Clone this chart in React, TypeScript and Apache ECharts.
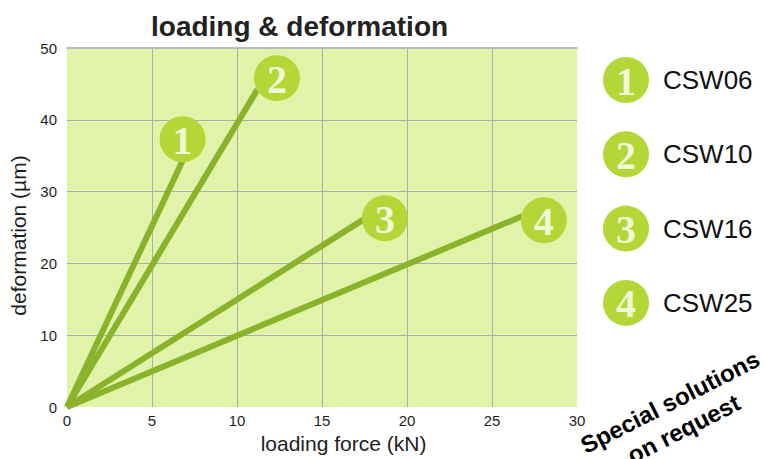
import React, { useEffect, useRef } from "react";
import * as echarts from "echarts";

const categories = ["CSW06", "CSW10", "CSW16", "CSW25"];
const badgeNumbers = ["1", "2", "3", "4"];
// end point of each loading line (kN, µm)
const endForce = [6.8, 11.2, 17.5, 26.8];
const endDeform = [34.3, 44.2, 26.2, 26.6];
// numbered badge position at the end of each line (kN, µm)
const badgeForce = [6.8, 12.35, 18.7, 28.05];
const badgeDeform = [37.3, 45.8, 26.3, 26.0];
const noteLines = ["Special solutions", "on request"];

const LINE = "#8ab22a";
const BADGE = "#b5d637";
const BADGE_TEXT = "#f1f8d4";
const PLOT_BG = "#e1f3a9";
const GRID = "#adadad";
const TEXT = "#1e1e1e";
const SANS = "'Liberation Sans', Arial, sans-serif";

export default function App() {
  const ref = useRef<HTMLDivElement>(null);
  useEffect(() => {
    if (!ref.current) return;
    const chart = echarts.init(ref.current, null, { renderer: "svg" });

    const legendGraphics: any[] = [];
    categories.forEach((name, i) => {
      const cy = 80 + i * 74.3;
      legendGraphics.push({
        type: "circle",
        shape: { cx: 626, cy, r: 23 },
        style: { fill: BADGE },
      });
      legendGraphics.push({
        type: "text",
        x: 626,
        y: cy + 1,
        style: {
          text: badgeNumbers[i],
          fill: BADGE_TEXT,
          font: "bold 40px 'Liberation Serif', serif",
          align: "center",
          verticalAlign: "middle",
        },
      });
      legendGraphics.push({
        type: "text",
        x: 663,
        y: cy,
        style: {
          text: name,
          fill: "#111",
          font: "26px " + SANS,
          align: "left",
          verticalAlign: "middle",
        },
      });
    });

    const angle = (27 * Math.PI) / 180;
    const noteGraphics = noteLines.map((t, i) => ({
      type: "text",
      x: 670 + i * 30 * Math.sin(angle),
      y: 402 + i * 30 * Math.cos(angle),
      rotation: angle,
      style: {
        text: t,
        fill: "#000",
        font: "bold 24px " + SANS,
        align: "center",
        verticalAlign: "middle",
      },
    }));

    const option: any = {
      animation: false,
      backgroundColor: "#ffffff",
      title: {
        text: "loading & deformation",
        left: 146,
        top: 7,
        textStyle: {
          fontFamily: SANS,
          fontWeight: "bold",
          fontSize: 28,
          color: "#222",
        },
      },
      grid: {
        left: 67,
        right: 195,
        top: 48,
        bottom: 52,
        show: true,
        backgroundColor: PLOT_BG,
        borderWidth: 0,
      },
      xAxis: [
        {
          type: "value",
          min: 0,
          max: 30,
          interval: 5,
          name: "loading force (kN)",
          nameLocation: "middle",
          nameGap: 24,
          nameTextStyle: {
            fontFamily: SANS,
            fontSize: 21,
            color: TEXT,
            padding: [0, 0, 0, 43],
          },
          axisLine: { show: false },
          axisTick: { show: false },
          axisLabel: {
            margin: 6,
            fontFamily: SANS,
            fontSize: 15,
            color: TEXT,
          },
          splitLine: {
            show: true,
            showMinLine: false,
            showMaxLine: false,
            lineStyle: { color: GRID, width: 1 },
          },
        },
        {
          type: "value",
          min: 0,
          max: 30,
          position: "top",
          axisLine: { show: true, lineStyle: { color: "#bdbdbd", width: 2 } },
          axisTick: { show: false },
          axisLabel: { show: false },
          splitLine: { show: false },
        },
      ],
      yAxis: {
        type: "value",
        min: 0,
        max: 50,
        interval: 10,
        name: "deformation (µm)",
        nameLocation: "middle",
        nameGap: 33,
        nameTextStyle: {
          fontFamily: SANS,
          fontSize: 21,
          color: TEXT,
          padding: [0, 16, 0, 0],
        },
        axisLine: { show: false },
        axisTick: { show: false },
        axisLabel: {
          margin: 10,
          fontFamily: SANS,
          fontSize: 15,
          color: TEXT,
        },
        splitLine: {
          show: true,
          showMinLine: false,
          showMaxLine: false,
          lineStyle: { color: GRID, width: 1 },
        },
      },
      series: [
        ...categories.map((name, i) => ({
          type: "line",
          name,
          xAxisIndex: 0,
          data: [
            [0, 0],
            [endForce[i], endDeform[i]],
          ],
          symbol: "none",
          lineStyle: { width: 6, color: LINE },
          z: 2,
        })),
        {
          type: "scatter",
          xAxisIndex: 0,
          data: categories.map((name, i) => ({
            name: badgeNumbers[i],
            value: [badgeForce[i], badgeDeform[i]],
          })),
          symbol: "circle",
          symbolSize: 46,
          itemStyle: { color: BADGE, opacity: 1 },
          label: {
            show: true,
            position: "inside",
            formatter: "{b}",
            fontFamily: "'Liberation Serif', serif",
            fontWeight: "bold",
            fontSize: 40,
            color: BADGE_TEXT,
            offset: [0, 1],
          },
          emphasis: { disabled: true },
          z: 3,
        },
      ],
      graphic: [...legendGraphics, ...noteGraphics],
    };

    chart.setOption(option);
    return () => chart.dispose();
  }, []);

  return (
    <div
      ref={ref}
      style={{ position: "fixed", left: 0, top: 0, width: 772, height: 459 }}
    />
  );
}
